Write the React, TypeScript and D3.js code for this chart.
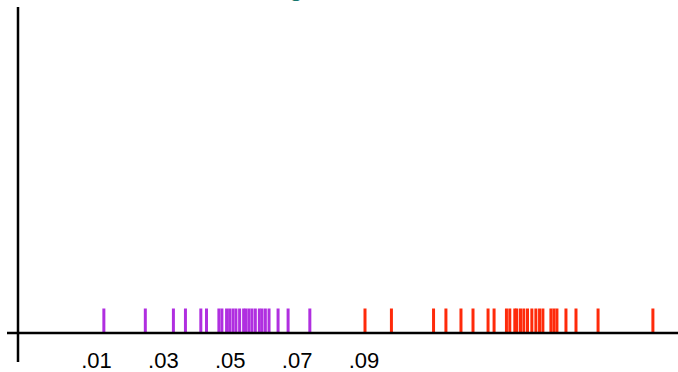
import * as d3 from "d3";

// rug values
const groupA = [
  0.0122, 0.0246, 0.033, 0.0366, 0.0412, 0.0429, 0.0466, 0.0475, 0.0489,
  0.0498, 0.0508, 0.0517, 0.0528, 0.054, 0.0547, 0.0556, 0.0565, 0.0575,
  0.0587, 0.0595, 0.0605, 0.0616, 0.0643, 0.0673, 0.0738,
];
const groupB = [
  0.0903, 0.0982, 0.1108, 0.1145, 0.119, 0.1226, 0.1271, 0.1289, 0.1326,
  0.1336, 0.1351, 0.1357, 0.1368, 0.1378, 0.1389, 0.1402, 0.1414, 0.1425,
  0.1435, 0.1459, 0.1468, 0.1477, 0.1504, 0.1534, 0.16, 0.1764,
];
const tickValues = [0.01, 0.03, 0.05, 0.07, 0.09];
const tickLabels = [".01", ".03", ".05", ".07", ".09"];

const width = 678;
const height = 372;
const axisY = 333;
const axisX = 18;

export default function App() {
  const x = d3.scaleLinear([0.01, 0.09], [96.5, 364]);

  const rug = (vals: number[], color: string) =>
    vals.map((v, i) => (
      <line
        key={color + i}
        x1={x(v)}
        x2={x(v)}
        y1={308.5}
        y2={332}
        stroke={color}
        strokeWidth={3}
      />
    ));

  return (
    <svg
      width={width}
      height={height}
      style={{ position: "absolute", left: 0, top: 0, background: "#fff" }}
      fontFamily="Liberation Sans, Arial, sans-serif"
    >
      {/* title sits above the frame, only the tail of its g shows */}
      <text x={303} y={-4.2} textAnchor="end" fontSize={22} fontWeight="bold" fill="#17776c">
        Rank and Rug
      </text>

      {rug(groupA, "#b02fe0")}
      {rug(groupB, "#ff2a0a")}

      {/* axes */}
      <line x1={axisX} x2={axisX} y1={7} y2={362} stroke="#000" strokeWidth={2.5} />
      <line x1={7} x2={width} y1={axisY} y2={axisY} stroke="#000" strokeWidth={2.5} />

      {tickValues.map((t, i) => (
        <text key={t} x={x(t)} y={368} textAnchor="middle" fontSize={22} fill="#000">
          {tickLabels[i]}
        </text>
      ))}
    </svg>
  );
}
